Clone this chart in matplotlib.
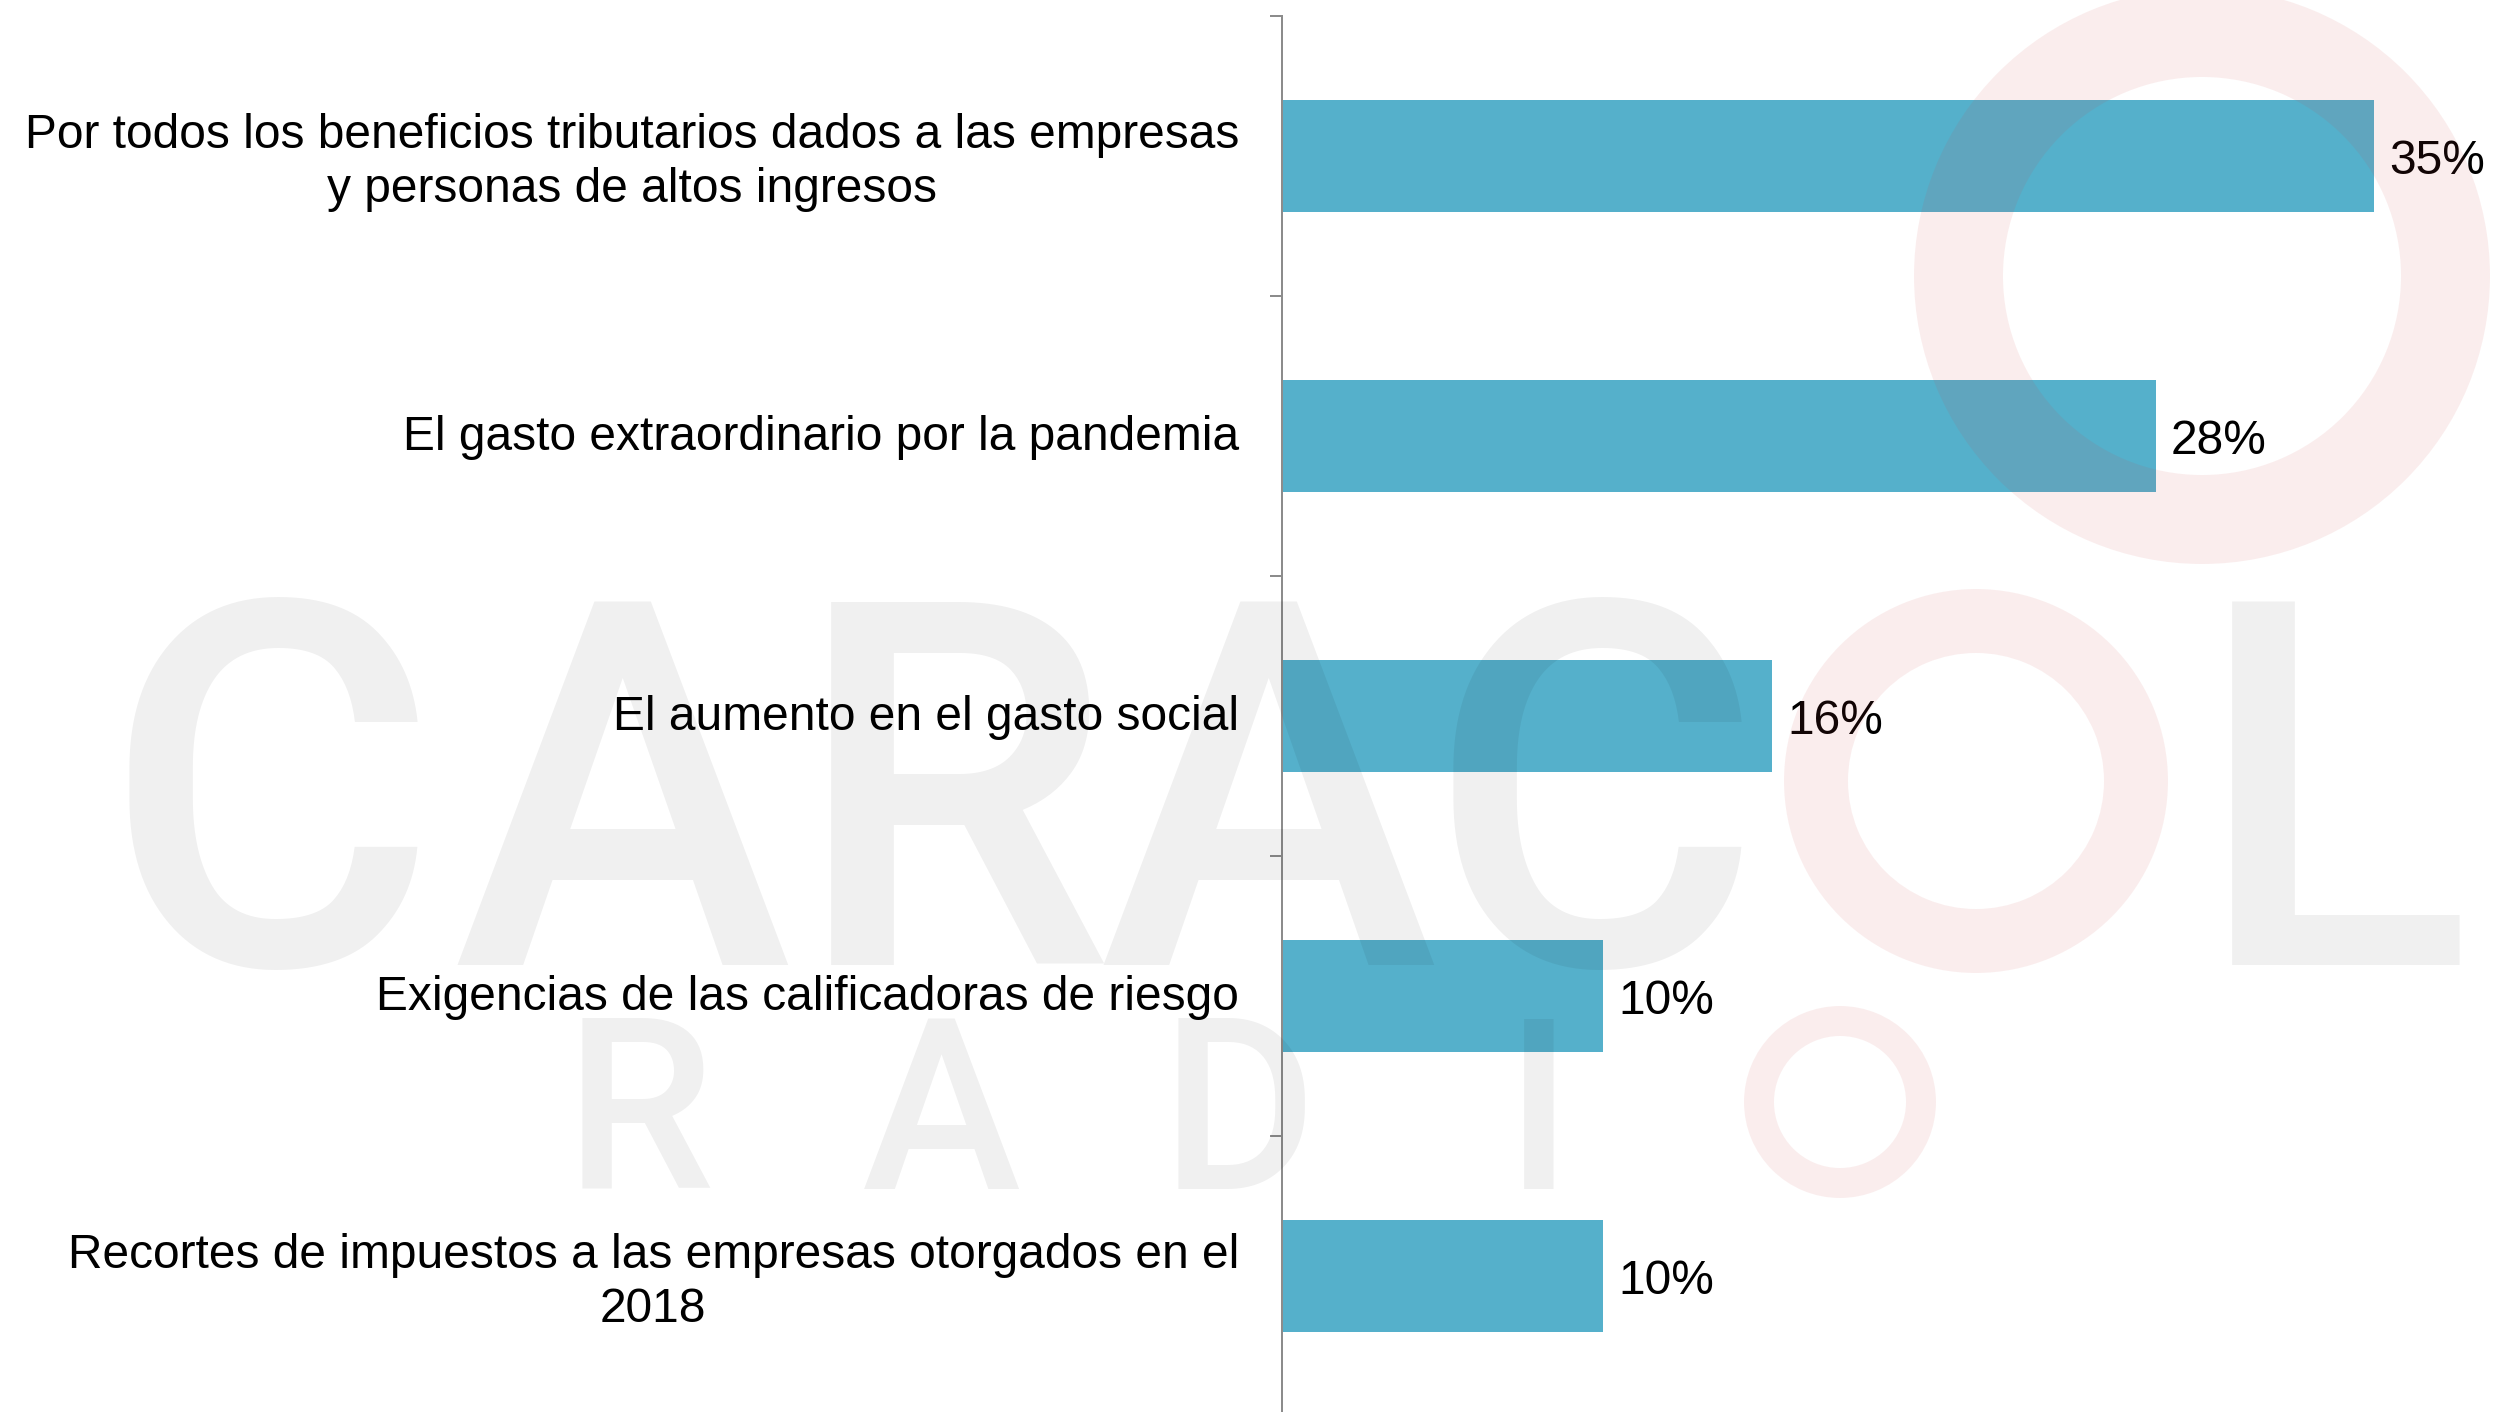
import matplotlib
matplotlib.use('Agg')
import matplotlib.pyplot as plt
from matplotlib.patches import Annulus
from matplotlib.transforms import ScaledTranslation
import numpy as np

plt.rcParams['font.family'] = ['Liberation Sans', 'DejaVu Sans']

categories = [
    "Por todos los beneficios tributarios dados a las empresas\ny personas de altos ingresos",
    "El gasto extraordinario por la pandemia",
    "El aumento en el gasto social",
    "Exigencias de las calificadoras de riesgo",
    "Recortes de impuestos a las empresas otorgados en el\n2018",
]
values = [35.0, 28.0, 15.7, 10.3, 10.3]
value_labels = ["35%", "28%", "16%", "10%", "10%"]

W, H = 2493, 1412
fig = plt.figure(figsize=(W / 100, H / 100), dpi=100)
fig.patch.set_facecolor('white')

ax_left = 1282
ax = fig.add_axes([ax_left / W, (H - 1416) / H, (W - ax_left) / W, 1400 / H])
y = np.arange(len(categories))
ax.barh(y, values, height=0.4, color='#55B0CB', zorder=2)
ax.set_ylim(len(categories) - 0.5, -0.5)
ax.set_xlim(0, (W - ax_left) / 31.2)
for s in ['top', 'right', 'bottom']:
    ax.spines[s].set_visible(False)
ax.spines['left'].set_color('#8c8c8c')
ax.spines['left'].set_linewidth(1.44)
ax.set_xticks([])
ax.set_yticks(y - 0.5)
ax.set_yticklabels([])
ax.set_yticks(y, minor=True)
ax.set_yticklabels(categories, minor=True, fontsize=34.5, color='black')
ax.tick_params(axis='y', which='major', length=8.6, width=1.44, color='#8c8c8c', direction='out')
ax.tick_params(axis='y', which='minor', length=0, pad=31)
shift = ScaledTranslation(0, 3.5 / 100, fig.dpi_scale_trans)
for lbl in ax.get_yticklabels(minor=True):
    lbl.set_multialignment('center')
    lbl.set_linespacing(1.27)
    lbl.set_transform(lbl.get_transform() + shift)
ax.patch.set_alpha(0)

for i, (v, t) in enumerate(zip(values, value_labels)):
    ax.annotate(t, (v, i), xytext=(11, 0), textcoords='offset points',
                va='center_baseline', ha='left', fontsize=34.5, color='black')

# watermark overlay
ov = fig.add_axes([0, 0, 1, 1], zorder=5)
ov.set_xlim(0, W)
ov.set_ylim(H, 0)
ov.axis('off')
ov.patch.set_alpha(0)

pink = '#d04040'
for (cx, cy), r, w in [((2202, 276), 288, 89), ((1976, 781), 192, 64), ((1840, 1102), 96, 30)]:
    ov.add_patch(Annulus((cx, cy), r, w, color=pink, alpha=0.09, lw=0))

big_fs = 367
for ch, cx in zip("CARACL", [270, 622, 953, 1268, 1594, 2333]):
    ov.text(cx, 965, ch, fontsize=big_fs, ha='center', va='baseline',
            color='black', alpha=0.06, family='Roboto', fontweight='medium')
small_fs = 172
for ch, cx in zip("RADI", [639, 941, 1239, 1539]):
    ov.text(cx, 1189, ch, fontsize=small_fs, ha='center', va='baseline',
            color='black', alpha=0.06, family='Roboto', fontweight='medium')

fig.savefig('out.png', dpi=100, facecolor='white')
